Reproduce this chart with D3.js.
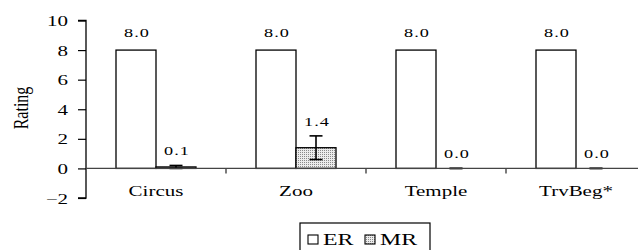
<!DOCTYPE html>
<html>
<head>
<meta charset="utf-8">
<script src="https://cdn.jsdelivr.net/npm/d3@7"></script>
</head>
<body style="margin:0;background:#fff">
<svg id="chart" width="638" height="250" font-family="Liberation Serif"></svg>
<script>
"use strict";

// chart data
var categories = ["Circus", "Zoo", "Temple", "TrvBeg*"];
var series = ["ER", "MR"];
var erValues = [8.0, 8.0, 8.0, 8.0];
var mrValues = [0.1, 1.4, 0.0, 0.0];
var mrErrors = [0.1, 0.8, 0.0, 0.0];
var yTicks = [-2, 0, 2, 4, 6, 8, 10];

var serif = "Liberation Serif";
// the original text looks horizontally stretched
var sx = 1.4;

var svg = d3.select("#chart");

// place a text at x,y with the horizontal stretch
function placeText(sel, fx, fy) {
    sel.attr("x", 0).attr("y", 0)
        .attr("transform", function(d, i) {
            return "translate(" + fx(d, i) + "," + fy(d, i) + ") scale(" + sx + ",1)";
        });
}

// stipple fill for MR bars
var defs = svg.append("defs");
var pat = defs.append("pattern")
    .attr("id", "stipple")
    .attr("width", 2).attr("height", 2)
    .attr("patternUnits", "userSpaceOnUse");
pat.append("rect").attr("width", 2).attr("height", 2).attr("fill", "#ececec");
pat.append("rect").attr("width", 1).attr("height", 1).attr("fill", "#8a8a8a");

var x0 = d3.scaleBand()
    .domain(categories)
    .range([86, 646]);

var x1 = d3.scaleBand()
    .domain(series)
    .range([0, x0.bandwidth()])
    .paddingOuter(0.75);

var y = d3.scaleLinear()
    .domain([-2, 10])
    .range([198, 20.5]);

// y axis
var yAxis = svg.append("g")
    .attr("transform", "translate(86,0)")
    .call(d3.axisLeft(y).tickValues(yTicks).tickSize(8).tickPadding(9).tickFormat(d3.format("d")));
yAxis.attr("font-family", serif).attr("font-size", 15);
yAxis.select(".domain").attr("stroke", "#000").attr("stroke-width", 1.3).attr("d", "M-8," + y(10) + "H0V" + y(-2) + "H-8");
yAxis.selectAll(".tick line").attr("stroke", "#000").attr("stroke-width", 1.2);
yAxis.selectAll(".tick text")
    .attr("fill", "#000")
    .attr("dy", "0.34em")
    .call(placeText, function() { return -18; }, function() { return 0; });

svg.append("text")
    .attr("transform", "translate(28,108) scale(1.25,1) rotate(-90)")
    .attr("text-anchor", "middle")
    .attr("font-family", serif)
    .attr("font-size", 16)
    .text("Rating");

// bars
var rows = categories.map(function(c, i) {
    return { cat: c, vals: [
        { key: "ER", v: erValues[i], e: 0 },
        { key: "MR", v: mrValues[i], e: mrErrors[i] }
    ]};
});

var groups = svg.selectAll(".grp")
    .data(rows)
    .enter().append("g")
    .attr("class", "grp")
    .attr("transform", function(d) { return "translate(" + x0(d.cat) + ",0)"; });

groups.selectAll(".bar")
    .data(function(d) { return d.vals; })
    .enter().append("rect")
    .attr("class", "bar")
    .attr("x", function(d) { return x1(d.key); })
    .attr("y", function(d) { return y(Math.max(0, d.v)); })
    .attr("width", x1.bandwidth())
    .attr("height", function(d) { return Math.abs(y(d.v) - y(0)); })
    .attr("fill", function(d) { return d.key === "ER" ? "#fff" : "url(#stipple)"; })
    .attr("stroke", "#000")
    .attr("stroke-width", 1.3);

// error bars on MR
var errs = groups.selectAll(".err")
    .data(function(d) { return d.vals.filter(function(v) { return v.key === "MR"; }); })
    .enter().append("g")
    .attr("class", "err")
    .attr("stroke", "#000")
    .attr("stroke-width", 1.6);

errs.append("line")
    .attr("x1", function(d) { return x1(d.key) + x1.bandwidth() / 2; })
    .attr("x2", function(d) { return x1(d.key) + x1.bandwidth() / 2; })
    .attr("y1", function(d) { return y(d.v + d.e); })
    .attr("y2", function(d) { return y(d.v - d.e); });
[1, -1].forEach(function(s) {
    errs.append("line")
        .attr("x1", function(d) { return x1(d.key) + x1.bandwidth() / 2 - 6.5; })
        .attr("x2", function(d) { return x1(d.key) + x1.bandwidth() / 2 + 6.5; })
        .attr("y1", function(d) { return y(d.v + s * d.e); })
        .attr("y2", function(d) { return y(d.v + s * d.e); });
});

// value labels
groups.selectAll(".lbl")
    .data(function(d) { return d.vals; })
    .enter().append("text")
    .attr("class", "lbl")
    .attr("text-anchor", "middle")
    .attr("font-family", serif)
    .attr("font-size", 13)
    .attr("letter-spacing", 0.8)
    .call(placeText,
        function(d) { return x1(d.key) + x1.bandwidth() / 2 + 1; },
        function(d) { return y(d.v + d.e) - (d.key === "ER" ? 13 : 10); })
    .text(function(d) { return d3.format(".1f")(d.v); });

// x axis line at zero with boundary ticks
svg.append("line")
    .attr("x1", 86).attr("x2", 646)
    .attr("y1", y(0)).attr("y2", y(0))
    .attr("stroke", "#444").attr("stroke-width", 1.4);

svg.selectAll(".xtick")
    .data(categories.slice(1))
    .enter().append("line")
    .attr("x1", function(d) { return x0(d); })
    .attr("x2", function(d) { return x0(d); })
    .attr("y1", y(0)).attr("y2", y(0) + 5)
    .attr("stroke", "#444").attr("stroke-width", 1.4);

svg.selectAll(".xlab")
    .data(categories)
    .enter().append("text")
    .attr("text-anchor", "middle")
    .attr("font-family", serif)
    .attr("font-size", 15)
    .call(placeText,
        function(d) { return x0(d) + x0.bandwidth() / 2; },
        function() { return 196; })
    .text(function(d) { return d; });

// legend
var leg = svg.append("g").attr("transform", "translate(300,223)");
leg.append("rect")
    .attr("width", 130).attr("height", 32)
    .attr("fill", "#fff").attr("stroke", "#000").attr("stroke-width", 1.2);

var legX = [8, 65];
leg.selectAll(".lsw")
    .data(series)
    .enter().append("rect")
    .attr("class", "lsw")
    .attr("x", function(d, i) { return legX[i]; })
    .attr("y", 12)
    .attr("width", 10).attr("height", 9)
    .attr("fill", function(d) { return d === "ER" ? "#fff" : "url(#stipple)"; })
    .attr("stroke", "#000").attr("stroke-width", 1.1);
leg.selectAll(".ltx")
    .data(series)
    .enter().append("text")
    .attr("class", "ltx")
    .attr("font-family", serif)
    .attr("font-size", 17)
    .call(placeText,
        function(d, i) { return legX[i] + 15; },
        function() { return 22; })
    .text(function(d) { return d; });
</script>
</body>
</html>
